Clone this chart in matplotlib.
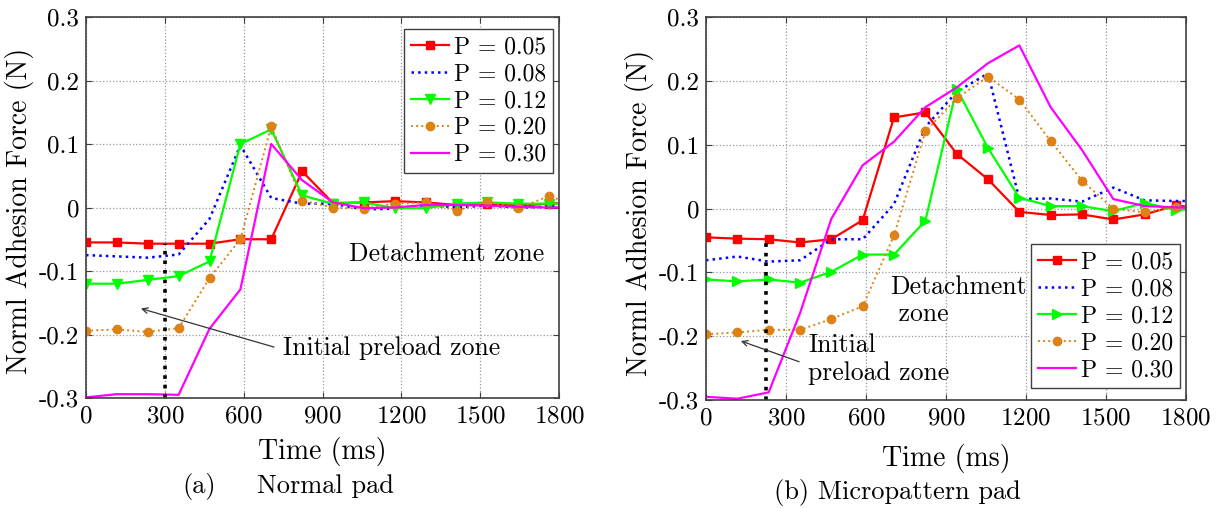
import matplotlib
matplotlib.use('Agg')
import matplotlib.pyplot as plt

plt.rcParams['font.family'] = 'serif'
plt.rcParams['font.serif'] = ['cmr10', 'DejaVu Serif']
plt.rcParams['mathtext.fontset'] = 'cm'
plt.rcParams['axes.unicode_minus'] = False
plt.rcParams['axes.formatter.use_mathtext'] = True

# time samples (ms)
time_ms = [0, 117.5, 235, 352.5, 470, 587.5, 705, 822.5, 940, 1057.5,
           1175, 1292.5, 1410, 1527.5, 1645, 1762.5, 1880]

labels = ['P = 0.05', 'P = 0.08', 'P = 0.12', 'P = 0.20', 'P = 0.30']

# (a) normal pad
a_p005 = [-0.055, -0.055, -0.057, -0.057, -0.057, -0.050, -0.050, 0.057, 0.007, 0.008,
          0.010, 0.008, 0.004, 0.005, 0.003, 0.006, 0.008]
a_p008 = [-0.075, -0.077, -0.079, -0.074, -0.018, 0.098, 0.015, 0.006, 0.006, -0.003,
          -0.002, 0.004, 0.000, 0.003, 0.000, 0.001, 0.003]
a_p012 = [-0.120, -0.120, -0.114, -0.108, -0.085, 0.100, 0.123, 0.019, 0.006, 0.008,
          -0.001, -0.001, 0.006, 0.008, 0.006, 0.006, 0.006]
a_p020 = [-0.194, -0.192, -0.196, -0.190, -0.111, -0.050, 0.128, 0.011, 0.000, -0.002,
          0.006, 0.008, -0.005, 0.009, -0.001, 0.018, 0.001]
a_p030 = [-0.299, -0.294, -0.294, -0.295, -0.191, -0.129, 0.100, 0.043, 0.008, -0.001,
          0.000, 0.004, 0.004, 0.003, 0.001, 0.000, 0.001]

# (b) micropattern pad
b_p005 = [-0.045, -0.047, -0.048, -0.053, -0.048, -0.018, 0.143, 0.151, 0.086, 0.046,
          -0.005, -0.010, -0.009, -0.017, -0.009, 0.005, 0.000]
b_p008 = [-0.081, -0.075, -0.083, -0.081, -0.048, -0.048, 0.007, 0.128, 0.183, 0.212,
          0.015, 0.016, 0.011, 0.033, 0.013, 0.012, 0.012]
b_p012 = [-0.111, -0.114, -0.111, -0.116, -0.099, -0.072, -0.072, -0.019, 0.188, 0.095,
          0.017, 0.004, 0.004, -0.004, 0.009, -0.002, 0.000]
b_p020 = [-0.197, -0.194, -0.190, -0.190, -0.173, -0.153, -0.042, 0.121, 0.173, 0.207,
          0.171, 0.106, 0.044, 0.000, -0.006, 0.002, 0.002]
b_p030 = [-0.295, -0.298, -0.288, -0.164, -0.016, 0.068, 0.105, 0.159, 0.190, 0.228,
          0.256, 0.159, 0.092, 0.015, 0.004, 0.002, 0.000]

xticks = [0, 300, 600, 900, 1200, 1500, 1800]
yticks = [-0.3, -0.2, -0.1, 0, 0.1, 0.2, 0.3]
ytick_labels = ['-0.3', '-0.2', '-0.1', '0', '0.1', '0.2', '0.3']

red, blue, green, orange, magenta = '#FF0000', '#0000FF', '#00FF00', '#DC8216', '#FF00FF'

fig = plt.figure(figsize=(12.3, 5.08), dpi=100)
ax1 = fig.add_axes([86 / 1230, 1 - 398 / 508, 473 / 1230, 381 / 508])
ax2 = fig.add_axes([706 / 1230, 1 - 400 / 508, 480 / 1230, 382.7 / 508])


def draw(ax, series, green_marker):
    s1, s2, s3, s4, s5 = series
    ax.plot(time_ms, s1, color=red, lw=1.6, marker='s', ms=6, label=labels[0])
    ax.plot(time_ms, s2, color=blue, lw=1.8, ls=':', label=labels[1])
    ax.plot(time_ms, s3, color=green, lw=1.6, marker=green_marker, ms=7.5, label=labels[2])
    ax.plot(time_ms, s4, color=orange, lw=1.4, ls=':', marker='o', ms=6, label=labels[3])
    ax.plot(time_ms, s5, color=magenta, lw=1.6, label=labels[4])
    ax.set_xlim(0, 1800)
    ax.set_ylim(-0.3, 0.3)
    ax.set_xticks(xticks)
    ax.set_yticks(yticks)
    ax.set_yticklabels(ytick_labels)
    ax.tick_params(direction='in', top=True, right=True, labelsize=18, length=4,
                   color='#404040', pad=5)
    ax.grid(True, ls=':', color='#999999', lw=0.9)
    for sp in ax.spines.values():
        sp.set_color('#404040')
        sp.set_linewidth(1.2)
    ax.set_xlabel('Time (ms)', fontsize=20)
    ax.set_ylabel('Norml Adhesion Force (N)', fontsize=20)


draw(ax1, [a_p005, a_p008, a_p012, a_p020, a_p030], 'v')
draw(ax2, [b_p005, b_p008, b_p012, b_p020, b_p030], '>')

ax1.xaxis.set_label_coords(0.5, -0.102)
ax1.yaxis.set_label_coords(-0.11, 0.49)
ax2.xaxis.set_label_coords(0.5, -0.115)
ax2.yaxis.set_label_coords(-0.108, 0.49)

leg_kw = dict(fontsize=17, borderaxespad=0, handlelength=1.6, handletextpad=0.2,
              labelspacing=0.2, borderpad=0.3, fancybox=False, framealpha=1)
l1 = ax1.legend(loc='upper right', bbox_to_anchor=(0.987, 0.968), **leg_kw)
l2 = ax2.legend(loc='lower right', bbox_to_anchor=(0.9875, 0.031), **leg_kw)
for lg in (l1, l2):
    lg.get_frame().set_edgecolor('#404040')
    lg.get_frame().set_linewidth(1.0)

# preload boundary lines
ax1.plot([300, 300], [-0.3, -0.057], color='black', ls=':', lw=2.6)
ax2.plot([225, 225], [-0.3, -0.048], color='black', ls=':', lw=2.6)

# annotations
arrow = dict(arrowstyle='->', color='#333333', lw=0.9)
ax1.annotate('', xy=(199, -0.158), xytext=(726, -0.221), arrowprops=arrow)
ax1.text(751, -0.222, 'Initial preload zone', fontsize=18.5, ha='left', va='center')
ax1.text(1001, -0.073, 'Detachment zone', fontsize=18.5, ha='left', va='center')

ax2.annotate('', xy=(121, -0.206), xytext=(359, -0.2415), arrowprops=arrow)
ax2.text(384, -0.236, 'Initial\npreload zone', fontsize=18.5, ha='left', va='center',
         linespacing=1.2)
ax2.text(690, -0.144, 'Detachment\n zone', fontsize=18.5, ha='left', va='center',
         linespacing=1.2)

# captions
fig.text(182 / 1230, 1 - 486 / 508, '(a)', fontsize=19, ha='left', va='center')
fig.text(257 / 1230, 1 - 486 / 508, 'Normal pad', fontsize=19, ha='left', va='center')
fig.text(897 / 1230, 1 - 493 / 508, '(b) Micropattern pad', fontsize=19, ha='center', va='center')

fig.savefig('out.png', dpi=100)
